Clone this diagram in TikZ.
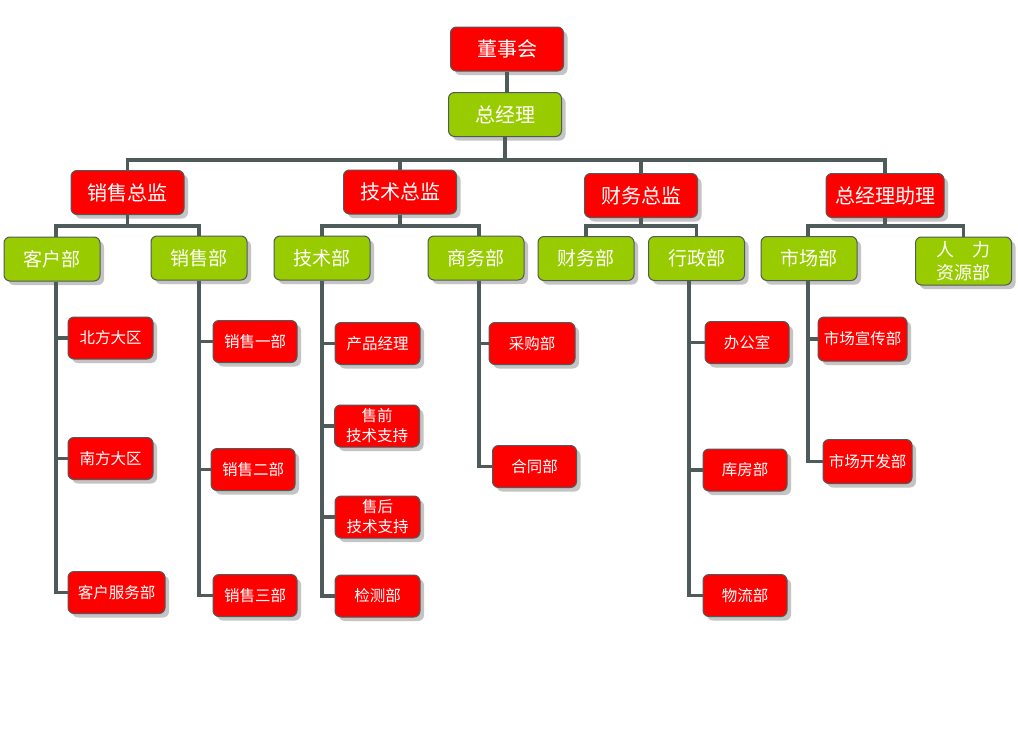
\documentclass[tikz,border=0pt]{standalone}
\usepackage{fontspec}
\newfontfamily\cjk{Noto Sans CJK SC}
\usetikzlibrary{shadows}
\definecolor{boxred}{HTML}{FF0000}
\definecolor{boxgreen}{HTML}{99CC00}
\definecolor{edge}{HTML}{4F5A5A}
\definecolor{shade}{HTML}{C4C4C4}
\begin{document}
\begin{tikzpicture}[x=1pt,y=-1pt,
  box/.style={draw=edge, line width=1pt, rounded corners=6pt, text=white, align=center, inner sep=0pt,
    drop shadow={shadow xshift=4pt, shadow yshift=-4pt, fill=shade, opacity=1}},
  topbox/.style={box, minimum width=113pt, minimum height=44pt, font=\cjk\fontsize{20}{23}\selectfont},
  redtop/.style={topbox, fill=boxred},
  greentop/.style={topbox, fill=boxgreen},
  deptbox/.style={box, fill=boxgreen, minimum width=96pt, minimum height=44pt, font=\cjk\fontsize{19}{23}\selectfont},
  unitbox/.style={box, fill=boxred, minimum width=85pt, minimum height=42pt, font=\cjk\fontsize{15.5}{20}\selectfont},
  conn/.style={draw=edge, line width=3.2pt}
]
\fill[white] (0,0) rectangle (1018,753);
\useasboundingbox (0,0) rectangle (1018,753);

% bus levels and trunks
\coordinate (b1) at (0,160);
\coordinate (b2) at (0,226);
\coordinate (ta) at (56,0);
\coordinate (tb) at (199,0);
\coordinate (tc) at (322,0);
\coordinate (td) at (479,0);
\coordinate (te) at (689,0);
\coordinate (tf) at (808,0);

% level 1
\node[redtop] (dsh) at (507,49) {董事会};
\node[greentop] (zjl) at (505,114.5) {总经理};

% level 2
\node[redtop] (xszj) at (127.5,192.5) {销售总监};
\node[redtop] (jszj) at (400,192) {技术总监};
\node[redtop] (cwzj) at (641,195.5) {财务总监};
\node[redtop, minimum width=118pt] (zlzl) at (885,195.5) {总经理助理};

% level 3
\node[deptbox] (khb) at (52,259) {客户部};
\node[deptbox] (xsb) at (199,258) {销售部};
\node[deptbox] (jsb) at (322,258) {技术部};
\node[deptbox] (swb) at (476,258) {商务部};
\node[deptbox] (cwb) at (586,258.5) {财务部};
\node[deptbox] (xzb) at (696.5,258.5) {行政部};
\node[deptbox] (scb) at (809,258.5) {市场部};
\node[deptbox, minimum height=48pt, font=\cjk\fontsize{18}{23}\selectfont] (rlzy) at (963.5,261) {人　力\\资源部};

% level 4
\node[unitbox] (bf) at (110.5,338) {北方大区};
\node[unitbox] (nf) at (110.5,458.5) {南方大区};
\node[unitbox, minimum width=97pt] (kf) at (116.5,592.5) {客户服务部};
\node[unitbox, minimum width=84pt] (xs1) at (255,341.5) {销售一部};
\node[unitbox, minimum width=84pt] (xs2) at (253,469.5) {销售二部};
\node[unitbox, minimum width=84pt] (xs3) at (255,595.5) {销售三部};
\node[unitbox] (cp) at (377.5,343.5) {产品经理};
\node[unitbox] (sq) at (377,426) {售前\\技术支持};
\node[unitbox] (sh) at (377.5,517) {售后\\技术支持};
\node[unitbox] (jc) at (377.5,596) {检测部};
\node[unitbox, minimum width=86pt] (cg) at (532,343.5) {采购部};
\node[unitbox, minimum width=84pt] (ht) at (534.5,466.5) {合同部};
\node[unitbox, minimum width=84pt] (bgs) at (747,342.5) {办公室};
\node[unitbox, minimum width=84pt] (kfb) at (745,470) {库房部};
\node[unitbox, minimum width=84pt] (wl) at (745,595.5) {物流部};
\node[unitbox, minimum width=89pt, minimum height=44pt] (scxc) at (862.5,339) {市场宣传部};
\node[unitbox, minimum width=89pt, minimum height=44pt] (sckf) at (867.5,461.5) {市场开发部};

% top bus
\draw[conn] (dsh.south) -- (dsh.south |- zjl.north);
\draw[conn] (zjl.south) -- (zjl.south |- b1);
\draw[conn] (xszj.north) -- (xszj.north |- b1) -- (zlzl.north |- b1) -- (zlzl.north);
\draw[conn] (jszj.north) -- (jszj.north |- b1);
\draw[conn] (cwzj.north) -- (cwzj.north |- b1);

% level 2 -> 3
\draw[conn] (xszj.south) -- (xszj.south |- b2);
\draw[conn] (khb.north -| ta) -- (ta |- b2) -- (xsb.north |- b2) -- (xsb.north);
\draw[conn] (jszj.south) -- (jszj.south |- b2);
\draw[conn] (jsb.north) -- (jsb.north |- b2) -- (td |- b2) -- (swb.north -| td);
\draw[conn] (cwzj.south) -- (cwzj.south |- b2);
\draw[conn] (cwb.north) -- (cwb.north |- b2) -- (xzb.north |- b2) -- (xzb.north);
\draw[conn] (zlzl.south) -- (zlzl.south |- b2);
\draw[conn] (scb.north -| tf) -- (tf |- b2) -- (rlzy.north |- b2) -- (rlzy.north);

% trunks and branches
\draw[conn] (khb.south -| ta) -- (ta |- kf.west) -- (kf.west);
\draw[conn] (ta |- bf.west) -- (bf.west);
\draw[conn] (ta |- nf.west) -- (nf.west);

\draw[conn] (xsb.south -| tb) -- (tb |- xs3.west) -- (xs3.west);
\draw[conn] (tb |- xs1.west) -- (xs1.west);
\draw[conn] (tb |- xs2.west) -- (xs2.west);

\draw[conn] (jsb.south -| tc) -- (tc |- jc.west) -- (jc.west);
\draw[conn] (tc |- cp.west) -- (cp.west);
\draw[conn] (tc |- sq.west) -- (sq.west);
\draw[conn] (tc |- sh.west) -- (sh.west);

\draw[conn] (swb.south -| td) -- (td |- ht.west) -- (ht.west);
\draw[conn] (td |- cg.west) -- (cg.west);

\draw[conn] (xzb.south -| te) -- (te |- wl.west) -- (wl.west);
\draw[conn] (te |- bgs.west) -- (bgs.west);
\draw[conn] (te |- kfb.west) -- (kfb.west);

\draw[conn] (scb.south -| tf) -- (tf |- sckf.west) -- (sckf.west);
\draw[conn] (tf |- scxc.west) -- (scxc.west);
\end{tikzpicture}
\end{document}
